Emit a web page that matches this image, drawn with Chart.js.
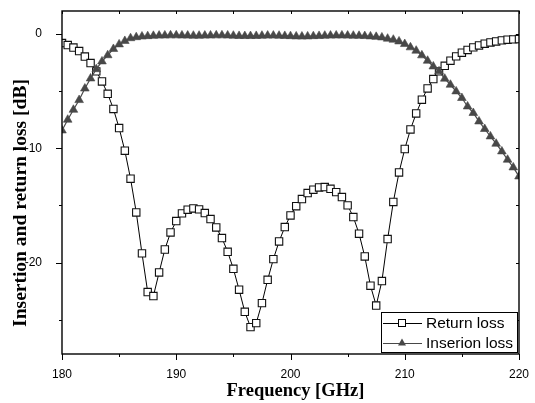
<!DOCTYPE html>
<html>
<head>
<meta charset="utf-8">
<script src="https://cdn.jsdelivr.net/npm/chart.js@4.4.1/dist/chart.umd.min.js"></script>
<style>
  html, body { margin: 0; padding: 0; background: #fff; }
  #wrap { width: 535px; height: 403px; }
</style>
</head>
<body>
<div id="wrap"><canvas id="lossChart" width="535" height="403"></canvas></div>
<script>
// frequency points, GHz (0.5 GHz step)
const freqs = [
  180, 180.5, 181, 181.5, 182, 182.5, 183, 183.5, 184, 184.5,
  185, 185.5, 186, 186.5, 187, 187.5, 188, 188.5, 189, 189.5,
  190, 190.5, 191, 191.5, 192, 192.5, 193, 193.5, 194, 194.5,
  195, 195.5, 196, 196.5, 197, 197.5, 198, 198.5, 199, 199.5,
  200, 200.5, 201, 201.5, 202, 202.5, 203, 203.5, 204, 204.5,
  205, 205.5, 206, 206.5, 207, 207.5, 208, 208.5, 209, 209.5,
  210, 210.5, 211, 211.5, 212, 212.5, 213, 213.5, 214, 214.5,
  215, 215.5, 216, 216.5, 217, 217.5, 218, 218.5, 219, 219.5,
  220
];

// S11, dB
const returnLoss = [
  -0.80, -0.98, -1.20, -1.50, -1.98, -2.55, -3.28, -4.16, -5.24, -6.57,
  -8.24, -10.22, -12.67, -15.62, -19.20, -22.58, -22.93, -20.87, -18.86, -17.37,
  -16.37, -15.70, -15.38, -15.27, -15.35, -15.67, -16.20, -16.93, -17.86, -19.06,
  -20.55, -22.38, -24.31, -25.65, -25.30, -23.55, -21.51, -19.70, -18.16, -16.90,
  -15.88, -15.07, -14.45, -13.92, -13.63, -13.43, -13.40, -13.55, -13.84, -14.27,
  -15.00, -16.02, -17.48, -19.47, -22.03, -23.76, -21.62, -17.95, -14.70, -12.12,
  -10.07, -8.36, -6.96, -5.76, -4.77, -3.95, -3.28, -2.79, -2.35, -1.97,
  -1.65, -1.41, -1.18, -1.01, -0.86, -0.75, -0.66, -0.57, -0.51, -0.48,
  -0.45
];

// S21, dB
const insertionLoss = [
  -8.45, -7.51, -6.64, -5.79, -4.78, -3.90, -3.09, -2.41, -1.87, -1.32,
  -0.92, -0.62, -0.38, -0.29, -0.23, -0.20, -0.17, -0.15, -0.14, -0.13,
  -0.13, -0.14, -0.15, -0.16, -0.16, -0.15, -0.14, -0.13, -0.13, -0.14,
  -0.16, -0.18, -0.19, -0.19, -0.18, -0.16, -0.15, -0.15, -0.16, -0.18,
  -0.20, -0.22, -0.23, -0.22, -0.20, -0.18, -0.16, -0.15, -0.14, -0.14,
  -0.15, -0.16, -0.17, -0.19, -0.22, -0.26, -0.31, -0.42, -0.51, -0.66,
  -0.89, -1.18, -1.47, -1.88, -2.35, -2.85, -3.28, -3.92, -4.45, -5.03,
  -5.61, -6.35, -6.92, -7.66, -8.32, -8.97, -9.61, -10.28, -11.01, -11.68,
  -12.47
];

const xTicks = [180, 185, 190, 195, 200, 205, 210, 215, 220];
const xLabels = ["180", "", "190", "", "200", "", "210", "", "220"];
const yTicks = [-25, -20, -15, -10, -5, 0];
const yLabels = ["", "-20", "", "-10", "", "0"];

const seriesNames = ["Return loss", "Inserion loss"];
const xTitle = "Frequency [GHz]";
const yTitle = "Insertion and return loss [dB]";

const TRI_COLOR = "#484848";
const tickFont = { family: "'Liberation Sans', Arial, sans-serif", size: 12 };

// frame, Origin-style ticks, axis titles and boxed legend
const decorations = {
  id: "decorations",
  afterDraw(chart) {
    const { ctx, chartArea: a, scales: { x, y } } = chart;
    ctx.save();
    ctx.strokeStyle = "#000";
    ctx.lineWidth = 1.4;
    ctx.strokeRect(a.left, a.top, a.right - a.left, a.bottom - a.top);

    ctx.lineWidth = 1;
    ctx.beginPath();
    xTicks.forEach((v, i) => {
      const px = Math.round(x.getPixelForValue(v)) + 0.5;
      const len = xLabels[i] ? 6 : 3;
      ctx.moveTo(px, a.bottom); ctx.lineTo(px, a.bottom + len);
      ctx.moveTo(px, a.top); ctx.lineTo(px, a.top + 3);
    });
    yTicks.forEach((v, i) => {
      const py = Math.round(y.getPixelForValue(v)) + 0.5;
      const len = yLabels[i] ? 6 : 3;
      ctx.moveTo(a.left, py); ctx.lineTo(a.left - len, py);
      ctx.moveTo(a.right, py); ctx.lineTo(a.right - 3, py);
    });
    ctx.stroke();

    // axis titles
    ctx.fillStyle = "#000";
    ctx.textAlign = "center";
    ctx.textBaseline = "middle";
    ctx.font = "bold 18.5px 'Liberation Serif', 'Times New Roman', serif";
    ctx.fillText(xTitle, (a.left + a.right) / 2 + 5, 391);
    ctx.save();
    ctx.translate(21, 203);
    ctx.rotate(-Math.PI / 2);
    ctx.font = "bold 19.5px 'Liberation Serif', 'Times New Roman', serif";
    ctx.fillText(yTitle, 0, 0);
    ctx.restore();

    // legend box in lower right corner
    const bx = a.right - 138, by = a.bottom - 42, bw = 136, bh = 40;
    ctx.fillStyle = "#fff";
    ctx.fillRect(bx, by, bw, bh);
    ctx.strokeStyle = "#000";
    ctx.lineWidth = 1;
    ctx.strokeRect(bx + 0.5, by + 0.5, bw, bh);

    ctx.font = "15.5px 'Liberation Sans', Arial, sans-serif";
    ctx.textAlign = "left";
    const rows = [by + 11, by + 31];
    rows.forEach((ry, i) => {
      ctx.strokeStyle = i === 0 ? "#000" : TRI_COLOR;
      ctx.beginPath();
      ctx.moveTo(bx + 2, ry + 0.5); ctx.lineTo(bx + 41, ry + 0.5);
      ctx.stroke();
      const mx = bx + 21;
      if (i === 0) {
        ctx.fillStyle = "#fff";
        ctx.fillRect(mx - 3.5, ry - 3.5, 7, 7);
        ctx.strokeStyle = "#000";
        ctx.strokeRect(mx - 3.5, ry - 3.5, 7, 7);
      } else {
        ctx.fillStyle = TRI_COLOR;
        ctx.beginPath();
        ctx.moveTo(mx, ry - 4.5);
        ctx.lineTo(mx + 4, ry + 2.5);
        ctx.lineTo(mx - 4, ry + 2.5);
        ctx.closePath();
        ctx.fill();
      }
      ctx.fillStyle = "#000";
      ctx.fillText(seriesNames[i], bx + 45, ry + 1);
    });
    ctx.restore();
  }
};

new Chart(document.getElementById("lossChart"), {
  type: "line",
  data: {
    datasets: [
      {
        label: seriesNames[0],
        data: freqs.map((f, i) => ({ x: f, y: returnLoss[i] })),
        borderColor: "#000",
        borderWidth: 1,
        pointStyle: "rect",
        pointRadius: 5.2,
        pointBorderWidth: 1.1,
        pointBorderColor: "#111",
        pointBackgroundColor: "#fff",
        tension: 0,
        clip: 0,
        order: 1,
      },
      {
        label: seriesNames[1],
        data: freqs.map((f, i) => ({ x: f, y: insertionLoss[i] })),
        borderColor: TRI_COLOR,
        borderWidth: 1.2,
        pointStyle: "triangle",
        pointRadius: 5,
        pointBorderWidth: 0.6,
        pointBorderColor: TRI_COLOR,
        pointBackgroundColor: TRI_COLOR,
        tension: 0,
        clip: 0,
        order: 0,
      },
    ],
  },
  options: {
    responsive: false,
    animation: false,
    events: [],
    layout: { padding: { top: 11, right: 16, left: 0, bottom: 0 } },
    scales: {
      x: {
        type: "linear",
        min: 180,
        max: 220,
        afterFit: (s) => { s.height = 49; s.paddingLeft = 0; s.paddingRight = 0; },
        afterBuildTicks: (s) => { s.ticks = xTicks.map((v) => ({ value: v })); },
        grid: { display: false },
        border: { display: false },
        ticks: {
          color: "#000",
          font: tickFont,
          padding: 5.5,
          maxRotation: 0,
          autoSkip: false,
          callback: (v) => xLabels[xTicks.indexOf(v)] || "",
        },
      },
      y: {
        min: -28,
        max: 2,
        afterFit: (s) => { s.width = 62; s.paddingTop = 0; s.paddingBottom = 0; },
        afterBuildTicks: (s) => { s.ticks = yTicks.map((v) => ({ value: v })); },
        grid: { display: false },
        border: { display: false },
        ticks: {
          color: "#000",
          font: tickFont,
          padding: 12,
          autoSkip: false,
          callback: (v) => yLabels[yTicks.indexOf(v)] || "",
        },
      },
    },
    plugins: {
      legend: { display: false },
      tooltip: { enabled: false },
    },
  },
  plugins: [decorations],
});
</script>
</body>
</html>
